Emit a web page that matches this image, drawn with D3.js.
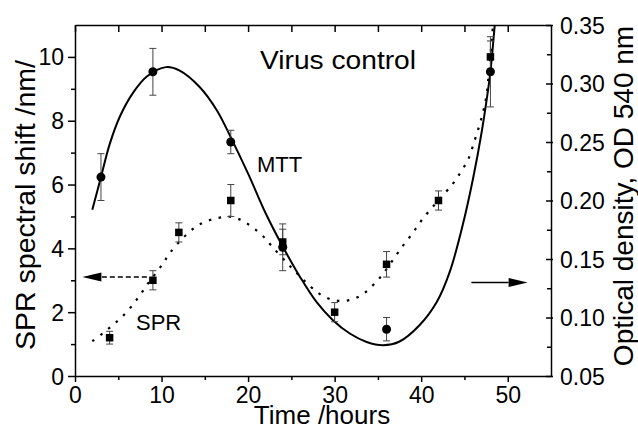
<!DOCTYPE html>
<html>
<head>
<meta charset="utf-8">
<script src="https://cdn.jsdelivr.net/npm/d3@7"></script>
<style>
  body { margin: 0; background: #fff; }
  svg { font-family: "Liberation Sans", Arial, sans-serif; }
  .axis path, .axis line { stroke: #000; stroke-width: 1.5; }
  .axis text { font-size: 23px; fill: #000; }
</style>
</head>
<body>
<script>
// Data

// SPR spectral shift (left axis, squares)
const sprTime  = [4, 9, 12, 18, 24, 30, 36, 42, 48];
const sprShift = [1.2, 3.0, 4.5, 5.5, 4.2, 2.0, 3.5, 5.5, 10.0];
const sprErr   = [0.2, 0.3, 0.3, 0.5, 0.4, 0.3, 0.4, 0.3, 0.5];

// MTT optical density (right axis, circles)
const mttTime = [3, 9, 18, 24, 36, 48];
const mttOD   = [0.22, 0.31, 0.25, 0.16, 0.09, 0.31];
const mttErr  = [0.02, 0.02, 0.01, 0.02, 0.01, 0.03];

// fitted curves
const mttFitTime = [2.0, 3, 4, 5.2, 6.7, 8.3, 10.5, 12.1, 14.4, 16.4, 18, 20.0, 22.1, 24.05, 26.0, 27.9, 29.8, 31.75, 33.7, 35.6, 37.5, 39.8, 41.8, 43.3, 44.8, 46.0, 47.0, 47.7, 48.0, 48.5];
const mttFitOD   = [0.192, 0.220, 0.248, 0.272, 0.292, 0.306, 0.314, 0.311, 0.297, 0.277, 0.254, 0.223, 0.188, 0.160, 0.1347, 0.1133, 0.0977, 0.0863, 0.0791, 0.0763, 0.0795, 0.0934, 0.1133, 0.139, 0.179, 0.219, 0.259, 0.293, 0.31, 0.35];

const sprFitTime  = [2.0, 3.3, 4.6, 5.7, 6.7, 7.5, 8.3, 10.1, 11.05, 13.3, 14.4, 16.0, 17.9, 19.25, 20.4, 21.7, 22.8, 25.0, 27.3, 28.5, 29.6, 30.8, 32.1, 33.3, 34.45, 35.6, 37.1, 38.1, 39.0, 39.8, 40.8, 42.9, 43.9, 44.65, 45.4, 46.2, 46.96, 47.5, 47.8, 48.3];
const sprFitShift = [1.09, 1.36, 1.65, 1.93, 2.24, 2.53, 2.85, 3.50, 3.89, 4.54, 4.75, 4.92, 4.99, 4.88, 4.68, 4.39, 4.05, 3.40, 2.78, 2.53, 2.40, 2.35, 2.41, 2.57, 2.85, 3.20, 3.78, 4.16, 4.47, 4.79, 5.13, 5.78, 6.11, 6.43, 6.77, 7.40, 8.08, 8.71, 9.44, 11.0];

// ticks
const xMajor = [0, 10, 20, 30, 40, 50];
const xMinor = [5, 15, 25, 35, 45];
const yLeftMajor = [0, 2, 4, 6, 8, 10];
const yLeftMinor = [1, 3, 5, 7, 9];
const yRightMajor = [0.05, 0.10, 0.15, 0.20, 0.25, 0.30, 0.35];
const yRightMinor = [0.075, 0.125, 0.175, 0.225, 0.275, 0.325];

// arrows: [t, value] start and tip
const sprArrow = [[8.3, 3.1], [0.85, 3.1]];
const mttArrow = [[45.8, 0.13], [52.3, 0.13]];

const width = 638, height = 430;
const plotL = 75, plotR = 551, plotT = 25, plotB = 376;

const svg = d3.select("body").append("svg")
    .attr("width", width)
    .attr("height", height);

const x = d3.scaleLinear().domain([0, 55]).range([plotL, plotR]);
const yL = d3.scaleLinear().domain([0, 11]).range([plotB, plotT]);
const yR = d3.scaleLinear().domain([0.05, 0.35]).range([plotB, plotT]);

svg.append("clipPath").attr("id", "plot")
    .append("rect")
    .attr("x", plotL).attr("y", plotT)
    .attr("width", plotR - plotL).attr("height", plotB - plotT);

// axes
// bottom
svg.append("g").attr("class", "axis")
    .attr("transform", `translate(0,${plotB})`)
    .call(d3.axisBottom(x).tickValues(xMajor).tickSize(6).tickSizeOuter(0).tickFormat(d3.format("d")))
    .call(g => g.selectAll("text").attr("dy", null).attr("y", 27));
svg.append("g").attr("class", "axis")
    .attr("transform", `translate(0,${plotB})`)
    .call(d3.axisBottom(x).tickValues(xMinor).tickSize(4).tickFormat(""))
    .call(g => g.select(".domain").remove());

// top, ticks inward
svg.append("g").attr("class", "axis")
    .attr("transform", `translate(0,${plotT})`)
    .call(d3.axisTop(x).tickValues(xMajor.concat(xMinor)).tickSize(-7).tickSizeOuter(0).tickFormat(""));

// left
svg.append("g").attr("class", "axis")
    .attr("transform", `translate(${plotL},0)`)
    .call(d3.axisLeft(yL).tickValues(yLeftMajor).tickSize(7).tickSizeOuter(0).tickPadding(4).tickFormat(d3.format("d")))
    .call(g => g.selectAll("text").attr("dy", "0.35em"));
svg.append("g").attr("class", "axis")
    .attr("transform", `translate(${plotL},0)`)
    .call(d3.axisLeft(yL).tickValues(yLeftMinor).tickSize(4).tickFormat(""))
    .call(g => g.select(".domain").remove());

// right
svg.append("g").attr("class", "axis")
    .attr("transform", `translate(${plotR},0)`)
    .call(d3.axisRight(yR).tickValues(yRightMajor).tickSize(2).tickSizeOuter(0).tickPadding(7).tickFormat(d3.format(".2f")))
    .call(g => g.selectAll("text").attr("dy", "0.35em"));
svg.append("g").attr("class", "axis")
    .attr("transform", `translate(${plotR},0)`)
    .call(d3.axisRight(yR).tickValues(yRightMajor).tickSize(-5).tickFormat(""))
    .call(g => g.select(".domain").remove());
svg.append("g").attr("class", "axis")
    .attr("transform", `translate(${plotR},0)`)
    .call(d3.axisRight(yR).tickValues(yRightMinor).tickSize(-4).tickFormat(""))
    .call(g => g.select(".domain").remove());

// fitted curves
const plot = svg.append("g").attr("clip-path", "url(#plot)");

const mttLine = d3.line()
    .x(i => x(mttFitTime[i]))
    .y(i => yR(mttFitOD[i]))
    .curve(d3.curveCatmullRom);
plot.append("path")
    .attr("d", mttLine(d3.range(mttFitTime.length)))
    .attr("fill", "none")
    .attr("stroke", "#000")
    .attr("stroke-width", 2);

const sprLine = d3.line()
    .x(i => x(sprFitTime[i]))
    .y(i => yL(sprFitShift[i]))
    .curve(d3.curveCatmullRom);
plot.append("path")
    .attr("d", sprLine(d3.range(sprFitTime.length)))
    .attr("fill", "none")
    .attr("stroke", "#000")
    .attr("stroke-width", 2.2)
    .attr("stroke-dasharray", "2.5,7.5");

// error bars
function errorBars(times, vals, errs, y) {
    const g = svg.append("g").attr("stroke", "#444").attr("stroke-width", 1);
    times.forEach((t, i) => {
        const cx = x(t), y1 = y(vals[i] + errs[i]), y2 = y(vals[i] - errs[i]);
        g.append("line").attr("x1", cx).attr("x2", cx).attr("y1", y1).attr("y2", y2);
        g.append("line").attr("x1", cx - 3.5).attr("x2", cx + 3.5).attr("y1", y1).attr("y2", y1);
        g.append("line").attr("x1", cx - 3.5).attr("x2", cx + 3.5).attr("y1", y2).attr("y2", y2);
    });
}
errorBars(sprTime, sprShift, sprErr, yL);
errorBars(mttTime, mttOD, mttErr, yR);

// markers
svg.append("g").selectAll("rect")
    .data(d3.range(sprTime.length))
    .join("rect")
    .attr("x", i => x(sprTime[i]) - 3.75)
    .attr("y", i => yL(sprShift[i]) - 3.75)
    .attr("width", 7.5)
    .attr("height", 7.5)
    .attr("fill", "#000");

svg.append("g").selectAll("circle")
    .data(d3.range(mttTime.length))
    .join("circle")
    .attr("cx", i => x(mttTime[i]))
    .attr("cy", i => yR(mttOD[i]))
    .attr("r", 4.5)
    .attr("fill", "#000");

// arrows
function arrow(p0, p1, y, dashed) {
    const x0 = x(p0[0]), x1 = x(p1[0]), yy = y(p0[1]);
    const dir = x1 > x0 ? 1 : -1;
    const headLen = 19, headHalf = 4.5;
    svg.append("line")
        .attr("x1", x0).attr("x2", x1 - dir * headLen)
        .attr("y1", yy).attr("y2", yy)
        .attr("stroke", "#000")
        .attr("stroke-width", 1.5)
        .attr("stroke-dasharray", dashed ? "5,3" : null);
    svg.append("path")
        .attr("d", `M${x1},${yy}L${x1 - dir * headLen},${yy - headHalf}L${x1 - dir * headLen},${yy + headHalf}Z`)
        .attr("fill", "#000");
}
arrow(sprArrow[0], sprArrow[1], yL, true);
arrow(mttArrow[0], mttArrow[1], yR, false);

// labels
svg.append("text")
    .attr("x", 260).attr("y", 69)
    .attr("font-size", 26)
    .attr("textLength", 156)
    .attr("lengthAdjust", "spacingAndGlyphs")
    .text("Virus control");

svg.append("text")
    .attr("x", 257).attr("y", 172)
    .attr("font-size", 22)
    .text("MTT");

svg.append("text")
    .attr("x", 136).attr("y", 330)
    .attr("font-size", 22)
    .text("SPR");

svg.append("text")
    .attr("x", 322).attr("y", 424)
    .attr("text-anchor", "middle")
    .attr("font-size", 26)
    .text("Time /hours");

svg.append("text")
    .attr("transform", "translate(35,205) rotate(-90)")
    .attr("text-anchor", "middle")
    .attr("font-size", 28.5)
    .text("SPR spectral shift /nm/");

svg.append("text")
    .attr("transform", "translate(633,196) rotate(-90)")
    .attr("text-anchor", "middle")
    .attr("font-size", 28)
    .text("Optical density, OD 540 nm");
</script>
</body>
</html>
